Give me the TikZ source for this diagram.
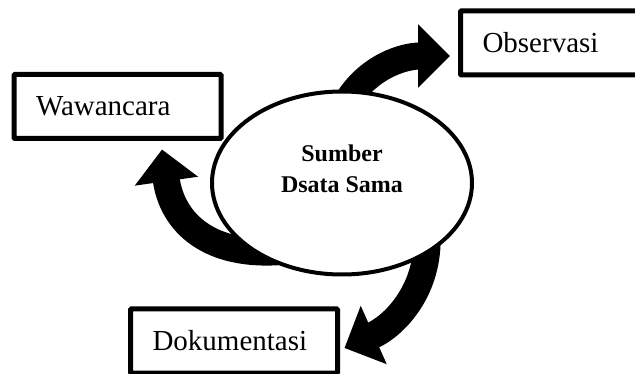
\documentclass[tikz,border=0pt]{standalone}
\usepackage{fontspec}
\setmainfont{Liberation Serif}
\usetikzlibrary{arrows.meta,calc,positioning,shapes.geometric,backgrounds}
\tikzset{
  tgbox/.style={draw=black, fill=white, line width=5pt, rounded corners=1pt, minimum height=64pt, text width=163pt, inner xsep=22pt, align=left, font=\fontsize{29}{34}\selectfont},
  tgellipse/.style={draw=black, fill=white, ellipse, line width=4pt, minimum width=260pt, minimum height=183pt, inner sep=0pt, align=center, font=\fontsize{24}{31}\selectfont\bfseries},
  tgarrow/.style={-{Triangle[length=32pt,width=62pt]}, line width=27pt, draw=black}
}

\begin{document}
\begin{tikzpicture}[x=1pt,y=1pt]
  \useasboundingbox (0,0) rectangle (635,-374);
  \clip (0,0) rectangle (635,-374);
  \node[tgellipse, text depth=28pt] (sumber) at (342,-183) {Sumber\\Dsata Sama};
  \node[tgbox] (waw) at (117.5,-106.5) {Wawancara};
  \node[tgbox] (obs) at (564,-43) {Observasi};
  \node[tgbox] (dok) at (234,-341) {Dokumentasi};
  \begin{scope}[on background layer]
    \draw[tgarrow] ($(sumber.88)+(0,-15)$) to[out=60,in=180] ($(obs.west)+(-8,-13)$);
    \draw[tgarrow] ($(sumber.225)+(18,8)$) to[out=185,in=-82,looseness=1.2] ($(waw.south)+(44.5,-8.5)$);
    \draw[tgarrow] ($(sumber.-40)+(0,15)$) to[out=-90,in=24] ($(dok.east)+(4.5,-7)$);
  \end{scope}
\end{tikzpicture}
\end{document}
